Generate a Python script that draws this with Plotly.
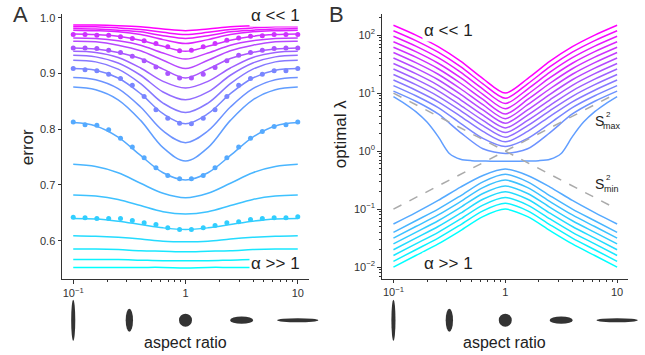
import numpy as np
import plotly.graph_objects as go

# ---------------- data ----------------
aspect_line = [0.1, 0.1585, 0.2512, 0.3981, 0.631, 1.0, 1.585, 2.512, 3.981, 6.31, 10.0]
aspect_fine = [0.1, 0.1259, 0.1585, 0.1995, 0.2512, 0.3162, 0.3981, 0.5012, 0.631, 0.7943, 1.0,
               1.259, 1.585, 1.995, 2.512, 3.162, 3.981, 5.012, 6.31, 7.943, 10.0]
aspect_dots = list(np.logspace(-1, 1, 20))

# panel A: error curves (top = alpha << 1, bottom = alpha >> 1)
err_01 = [.987, .987, .986, .984, .980, .977, .980, .984, .986, .987, .987]
err_02 = [.984, .984, .982, .979, .974, .970, .974, .979, .982, .984, .984]
err_03 = [.981, .980, .978, .975, .968, .963, .968, .975, .978, .980, .981]
err_04 = [.978, .977, .975, .970, .961, .954, .961, .970, .975, .977, .978]
err_05 = [.971, .970, .967, .960, .949, .940, .949, .960, .967, .970, .971]
err_06 = [.964, .963, .959, .951, .937, .926, .937, .951, .959, .963, .964]
err_07 = [.958, .957, .951, .941, .924, .909, .924, .941, .951, .957, .958]
err_08 = [.946, .944, .938, .927, .908, .892, .908, .927, .938, .944, .946]
err_09 = [.940, .938, .929, .910, .886, .874, .886, .910, .929, .938, .940]
err_10 = [.933, .930, .919, .897, .867, .853, .867, .897, .919, .930, .933]
err_11 = [.924, .921, .908, .882, .847, .830, .847, .882, .908, .921, .924]
err_12 = [.909, .906, .892, .864, .828, .810, .828, .864, .892, .906, .909]
err_13 = [.893, .889, .873, .840, .797, .776, .797, .840, .873, .889, .893]
err_14 = [.876, .871, .853, .816, .767, .743, .767, .816, .853, .871, .876]
err_15 = [.812, .806, .786, .753, .722, .709, .722, .753, .786, .806, .812]
err_16 = [.737, .733, .722, .703, .685, .677, .685, .703, .722, .733, .737]
err_17 = [.682, .680, .674, .663, .652, .648, .652, .663, .674, .680, .682]
err_18 = [.640, .639, .635, .629, .623, .620, .623, .629, .635, .639, .640]
err_19 = [.609, .608, .606, .603, .599, .598, .599, .603, .606, .608, .609]
err_20 = [.585, .585, .584, .582, .581, .580, .581, .582, .584, .585, .585]
err_21 = [.566, .566, .566, .565, .564, .564, .564, .565, .566, .566, .566]
err_22 = [.552, .552, .552, .552, .552, .551, .552, .552, .552, .552, .552]

# simulated points on five of the curves
dots_05 = [.970, .970, .969, .969, .966, .963, .959, .954, .948, .941,
           .942, .948, .954, .960, .964, .967, .968, .970, .970, .970]
dots_08 = [.946, .946, .945, .942, .938, .931, .923, .912, .900, .892,
           .892, .899, .911, .923, .933, .938, .942, .945, .946, .946]
dots_12 = [.909, .907, .905, .899, .891, .879, .859, .835, .820, .811,
           .810, .820, .835, .859, .879, .891, .899, .905, .905, .909]
dots_15 = [.813, .808, .807, .799, .784, .768, .749, .731, .717, .711,
           .711, .717, .731, .749, .768, .784, .796, .805, .808, .813]
dots_18 = [.642, .641, .640, .640, .640, .636, .632, .629, .623, .620,
           .620, .623, .627, .632, .634, .638, .640, .641, .641, .643]

# panel B: optimal lambda (log10 of the value)
loglam_01 = [2.17, 2.00, 1.80, 1.55, 1.25, 1.00, 1.25, 1.55, 1.80, 2.00, 2.17]
loglam_02 = [2.075, 1.905, 1.705, 1.455, 1.16, 0.91, 1.16, 1.455, 1.705, 1.905, 2.075]
loglam_03 = [1.98, 1.81, 1.61, 1.36, 1.07, 0.82, 1.07, 1.36, 1.61, 1.81, 1.98]
loglam_04 = [1.885, 1.715, 1.515, 1.265, 0.98, 0.73, 0.98, 1.265, 1.515, 1.715, 1.885]
loglam_05 = [1.79, 1.62, 1.42, 1.17, 0.89, 0.64, 0.89, 1.17, 1.42, 1.62, 1.79]
loglam_06 = [1.70, 1.525, 1.325, 1.075, 0.80, 0.56, 0.80, 1.075, 1.325, 1.525, 1.70]
loglam_07 = [1.605, 1.43, 1.23, 0.98, 0.71, 0.48, 0.71, 0.98, 1.23, 1.43, 1.605]
loglam_08 = [1.51, 1.335, 1.135, 0.885, 0.62, 0.40, 0.62, 0.885, 1.135, 1.335, 1.51]
loglam_09 = [1.415, 1.24, 1.04, 0.79, 0.53, 0.32, 0.53, 0.79, 1.04, 1.24, 1.415]
loglam_10 = [1.32, 1.145, 0.945, 0.70, 0.44, 0.24, 0.44, 0.70, 0.945, 1.145, 1.32]
loglam_11 = [1.225, 1.05, 0.85, 0.60, 0.34, 0.16, 0.34, 0.60, 0.85, 1.05, 1.225]
loglam_12 = [1.13, 0.955, 0.75, 0.48, 0.22, 0.08, 0.22, 0.48, 0.75, 0.955, 1.13]
loglam_13 = [1.035, 0.86, 0.64, 0.32, 0.04, -0.04, 0.04, 0.32, 0.64, 0.86, 1.035]
# lowest "small alpha" curve, read on the finer grid (sharp knees)
loglam_14 = [0.94, 0.82, 0.68, 0.50, 0.25, -0.04, -0.14, -0.165, -0.17, -0.175, -0.175,
             -0.175, -0.17, -0.165, -0.14, -0.04, 0.25, 0.50, 0.68, 0.82, 0.94]
loglam_15 = [-1.256, -1.06, -0.85, -0.62, -0.42, -0.31, -0.42, -0.62, -0.85, -1.06, -1.256]
loglam_16 = [-1.40, -1.20, -1.00, -0.77, -0.53, -0.40, -0.53, -0.77, -1.00, -1.20, -1.40]
loglam_17 = [-1.50, -1.30, -1.10, -0.87, -0.63, -0.50, -0.63, -0.87, -1.10, -1.30, -1.50]
loglam_18 = [-1.60, -1.40, -1.20, -0.97, -0.73, -0.60, -0.73, -0.97, -1.20, -1.40, -1.60]
loglam_19 = [-1.70, -1.50, -1.30, -1.07, -0.83, -0.70, -0.83, -1.07, -1.30, -1.50, -1.70]
loglam_20 = [-1.80, -1.60, -1.40, -1.17, -0.93, -0.80, -0.93, -1.17, -1.40, -1.60, -1.80]
loglam_21 = [-1.90, -1.70, -1.50, -1.27, -1.03, -0.90, -1.03, -1.27, -1.50, -1.70, -1.90]
loglam_22 = [-2.00, -1.80, -1.60, -1.37, -1.13, -1.00, -1.13, -1.37, -1.60, -1.80, -2.00]

# reference lines S^2_max / S^2_min (dashed)
s2_x = [0.1, 10.0]
s2_down = [10.0, 0.1]
s2_up = [0.1, 10.0]

x_tickvals = [0.1, 1, 10]
x_ticktext = ['10<sup>−1</sup>', '1', '10']
err_tickvals = [0.6, 0.7, 0.8, 0.9, 1.0]
err_ticktext = ['0.6', '0.7', '0.8', '0.9', '1.0']
lam_tickvals = [0.01, 0.1, 1, 10, 100]
lam_ticktext = ['10<sup>−2</sup>', '10<sup>−1</sup>', '10<sup>0</sup>', '10<sup>1</sup>', '10<sup>2</sup>']
icon_aspects = [0.1, 0.3162, 1.0, 3.162, 10.0]

err_curves = [err_01, err_02, err_03, err_04, err_05, err_06, err_07, err_08, err_09, err_10, err_11,
              err_12, err_13, err_14, err_15, err_16, err_17, err_18, err_19, err_20, err_21, err_22]
lam_curves = [loglam_01, loglam_02, loglam_03, loglam_04, loglam_05, loglam_06, loglam_07, loglam_08,
              loglam_09, loglam_10, loglam_11, loglam_12, loglam_13, loglam_14, loglam_15, loglam_16,
              loglam_17, loglam_18, loglam_19, loglam_20, loglam_21, loglam_22]
dot_sets = {4: dots_05, 7: dots_08, 11: dots_12, 14: dots_15, 17: dots_18}

# ---------------- figure ----------------
W, H = 645, 355
def px(x):
    return x / W
def py(y):
    return 1 - y / H

def cool(k, n=22):
    c = 1 - k / (n - 1)
    return 'rgb(%d,%d,255)' % (round(255 * c), round(255 * (1 - c)))

fig = go.Figure()
for k, ys in enumerate(err_curves):
    col = cool(k)
    fig.add_trace(go.Scatter(x=aspect_line, y=ys, mode='lines', line=dict(color=col, width=1.5, shape='spline'),
                             xaxis='x', yaxis='y', showlegend=False, hoverinfo='skip'))
    if k in dot_sets:
        fig.add_trace(go.Scatter(x=aspect_dots, y=dot_sets[k], mode='markers', marker=dict(color=col, size=5),
                                 xaxis='x', yaxis='y', showlegend=False, hoverinfo='skip'))

for k, ls in enumerate(lam_curves):
    xs = aspect_fine if len(ls) == len(aspect_fine) else aspect_line
    fig.add_trace(go.Scatter(x=xs, y=[10 ** v for v in ls], mode='lines',
                             line=dict(color=cool(k), width=1.5, shape='spline', smoothing=0.8),
                             xaxis='x2', yaxis='y2', showlegend=False, hoverinfo='skip'))
fig.add_trace(go.Scatter(x=s2_x, y=s2_down, mode='lines', line=dict(color='#aaaaaa', width=1.5, dash='dash'),
                         xaxis='x2', yaxis='y2', showlegend=False))
fig.add_trace(go.Scatter(x=s2_x, y=s2_up, mode='lines', line=dict(color='#aaaaaa', width=1.5, dash='dash'),
                         xaxis='x2', yaxis='y2', showlegend=False))

minor_x = [0.2, 0.3, 0.4, 0.5, 0.6, 0.7, 0.8, 0.9, 2, 3, 4, 5, 6, 7, 8, 9]
minor_y = [m * d for d in [0.001, 0.01, 0.1, 1, 10, 100] for m in range(2, 10)]
axcol = '#333333'
tf = dict(size=11, color=axcol, family='Liberation Sans, Arial, sans-serif')
common_x = dict(type='log', showline=True, linecolor=axcol, linewidth=1, ticks='outside', ticklen=3.5,
                tickcolor=axcol, tickvals=x_tickvals, ticktext=x_ticktext, showgrid=False, zeroline=False,
                tickfont=tf, minor=dict(ticks='outside', ticklen=2, tickcolor=axcol, tickvals=minor_x, showgrid=False))

XA = (62, 309, -1.1, 1.1)
XB = (381.7, 628.3, -1.105, 1.1)
fig.update_layout(
    width=W, height=H, margin=dict(l=0, r=0, t=0, b=0), plot_bgcolor='white', paper_bgcolor='white',
    font=dict(family='Liberation Sans, Arial, sans-serif', color='#222222'),
    xaxis=dict(domain=[px(XA[0]), px(XA[1])], range=[XA[2], XA[3]], anchor='y', **common_x),
    yaxis=dict(domain=[py(279), py(12)], range=[0.5304, 1.0071], anchor='x', showline=True, linecolor=axcol,
               linewidth=1, ticks='outside', ticklen=3.5, tickcolor=axcol, tickvals=err_tickvals,
               ticktext=err_ticktext, showgrid=False, zeroline=False, tickfont=tf),
    xaxis2=dict(domain=[px(XB[0]), px(XB[1])], range=[XB[2], XB[3]], anchor='y2', **common_x),
    yaxis2=dict(domain=[py(278.3), py(11.7)], range=[-2.2, 2.37], type='log', anchor='x2', showline=True,
                linecolor=axcol, linewidth=1, ticks='outside', ticklen=3.5, tickcolor=axcol,
                tickvals=lam_tickvals, ticktext=lam_ticktext, showgrid=False, zeroline=False, tickfont=tf,
                minor=dict(ticks='outside', ticklen=2, tickcolor=axcol, tickvals=minor_y, showgrid=False)),
)

ann = []
def text(x, y, s, size, **kw):
    d = dict(x=px(x), y=py(y), xref='paper', yref='paper', text=s, showarrow=False,
             font=dict(size=size, color='#222222'), xanchor='center', yanchor='middle')
    d.update(kw)
    ann.append(d)

text(20, 13, 'A', 22, font=dict(size=22, color='#333333'))
text(336, 13, 'B', 22, font=dict(size=22, color='#333333'))
text(275, 14, 'α << 1', 17, bgcolor='white')
text(275, 263, 'α >> 1', 17, bgcolor='white')
text(449, 29, 'α << 1', 17, bgcolor='white')
text(449, 263, 'α >> 1', 17, bgcolor='white')
text(27, 146, 'error', 17, textangle=-90)
text(340, 133, 'optimal λ', 17, textangle=-90)
text(185, 342, 'aspect ratio', 16)
text(505, 342, 'aspect ratio', 16)
# S^2 labels
text(599, 120, 'S', 14)
text(608, 113, '2', 8)
text(612, 125, 'max', 9)
text(599, 183, 'S', 14)
text(608, 176, '2', 8)
text(611, 188, 'min', 9)
fig.update_layout(annotations=ann)

shapes = []
for (p0, p1, r0, r1) in [XA, XB]:
    for a in icon_aspects:
        w = 13 * np.sqrt(a)
        h = 13 / np.sqrt(a)
        cx = p0 + (np.log10(a) - r0) / (r1 - r0) * (p1 - p0)
        shapes.append(dict(type='circle', xref='paper', yref='paper', xsizemode='pixel', ysizemode='pixel',
                           xanchor=px(cx), yanchor=py(320), x0=-w / 2, x1=w / 2, y0=-h / 2, y1=h / 2,
                           fillcolor='#333333', line=dict(width=0)))
fig.update_layout(shapes=shapes)

fig.write_html('out.html', config={'displayModeBar': False},
               post_script="document.body.style.margin='0';document.body.style.overflow='hidden';")
